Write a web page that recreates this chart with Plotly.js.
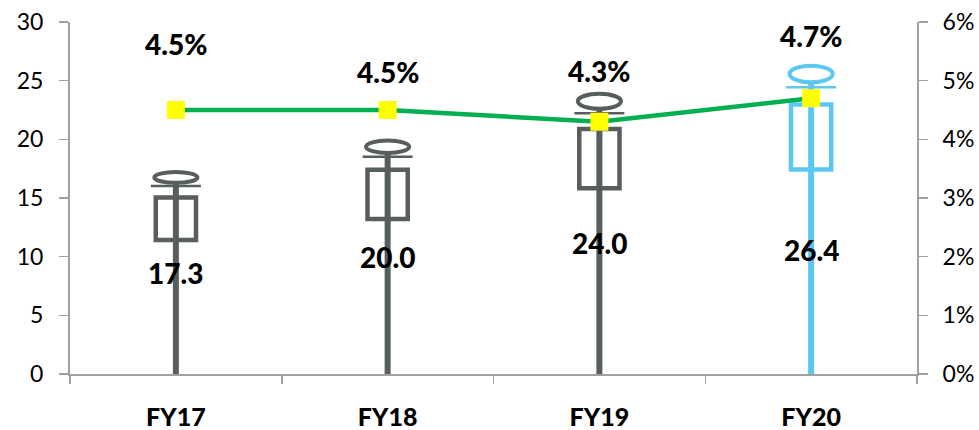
<!DOCTYPE html>
<html>
<head>
<meta charset="utf-8">
<script src="https://cdn.plot.ly/plotly-3.0.1.min.js"></script>
<style>html,body{margin:0;padding:0;background:#fff;}#chart{width:979px;height:430px;}</style>
</head>
<body>
<div id="chart"></div>
<script>
// ---- data ----
const categories = ["FY17", "FY18", "FY19", "FY20"];
const values = [17.3, 20.0, 24.0, 26.4];
const pctValues = [4.5, 4.5, 4.3, 4.7];
const iconColors = ["#575E5D", "#575E5D", "#575E5D", "#5CC8F2"];

// ---- label placement (pixel shifts, not data) ----
const valueLabelShift = [0, 0, -10, -31];
const pctLabelShift = [66, 38, 51, 62];

const shapes = [];
values.forEach((v, i) => {
  const c = iconColors[i];
  // stem
  shapes.push({type: "line", xref: "x", yref: "y", x0: i, x1: i, y0: 0, y1: 0.94 * v,
    line: {color: c, width: 6}, layer: "below"});
  // box
  shapes.push({type: "rect", xref: "x", yref: "y", x0: i - 0.095, x1: i + 0.095, y0: 0.66 * v, y1: 0.87 * v,
    line: {color: c, width: 4.5}, fillcolor: "rgba(0,0,0,0)", layer: "below"});
  // crossbar
  shapes.push({type: "line", xref: "x", yref: "y", x0: i - 0.118, x1: i + 0.118, y0: 0.926 * v, y1: 0.926 * v,
    line: {color: c, width: 2.5}, layer: "below"});
  // head
  shapes.push({type: "circle", xref: "x", yref: "y", x0: i - 0.102, x1: i + 0.102, y0: 0.942 * v, y1: 0.995 * v,
    line: {color: c, width: 4}, fillcolor: "#ffffff", layer: "below"});
});

const labelFont = {family: "Lato, sans-serif", size: 28, color: "#000", weight: 900};
const annotations = [];
values.forEach((v, i) => {
  annotations.push({xref: "x", yref: "y", x: i, y: v / 2, yshift: valueLabelShift[i],
    text: v.toFixed(1), showarrow: false, font: labelFont});
});
pctValues.forEach((p, i) => {
  annotations.push({xref: "x", yref: "y2", x: i, y: p, yshift: pctLabelShift[i],
    text: p.toFixed(1) + "%", showarrow: false, font: labelFont});
});

const traces = [
  {type: "scatter", x: categories, y: values, mode: "markers", marker: {opacity: 0},
    hoverinfo: "skip", showlegend: false, yaxis: "y"},
  {type: "scatter", x: categories, y: pctValues, yaxis: "y2", mode: "lines+markers",
    line: {color: "#00B050", width: 4.5},
    marker: {symbol: "square", color: "#FFFF00", size: 18, line: {width: 0}},
    showlegend: false}
];

const axisGray = "#A0A0A0";
const layout = {
  width: 979, height: 430,
  margin: {l: 70, r: 62, t: 22, b: 56},
  paper_bgcolor: "#fff", plot_bgcolor: "#fff",
  showlegend: false,
  font: {family: "Lato, sans-serif", color: "#000"},
  xaxis: {type: "category", range: [-0.5, 3.5], showgrid: false, zeroline: false,
    showline: true, linecolor: axisGray, linewidth: 2,
    ticks: "outside", tickson: "boundaries", ticklen: 8, tickcolor: axisGray, tickwidth: 1.5,
    ticklabelstandoff: 20,
    tickfont: {family: "Lato, sans-serif", size: 25, color: "#000", weight: 900}},
  yaxis: {range: [0, 30], dtick: 5, showgrid: false, zeroline: false,
    showline: true, linecolor: axisGray, linewidth: 2,
    ticks: "outside", ticklen: 9, tickcolor: axisGray, tickwidth: 1.5,
    ticklabelstandoff: 11,
    tickfont: {family: "Lato, sans-serif", size: 23, color: "#000"}},
  yaxis2: {range: [0, 6], dtick: 1, ticksuffix: "%", overlaying: "y", side: "right",
    showgrid: false, zeroline: false, showline: true, linecolor: axisGray, linewidth: 2,
    ticks: "outside", ticklen: 9, tickcolor: axisGray, tickwidth: 1.5,
    ticklabelstandoff: 10,
    tickfont: {family: "Lato, sans-serif", size: 23, color: "#000"}},
  shapes: shapes,
  annotations: annotations
};

Plotly.newPlot("chart", traces, layout, {displayModeBar: false, staticPlot: true});
</script>
</body>
</html>
